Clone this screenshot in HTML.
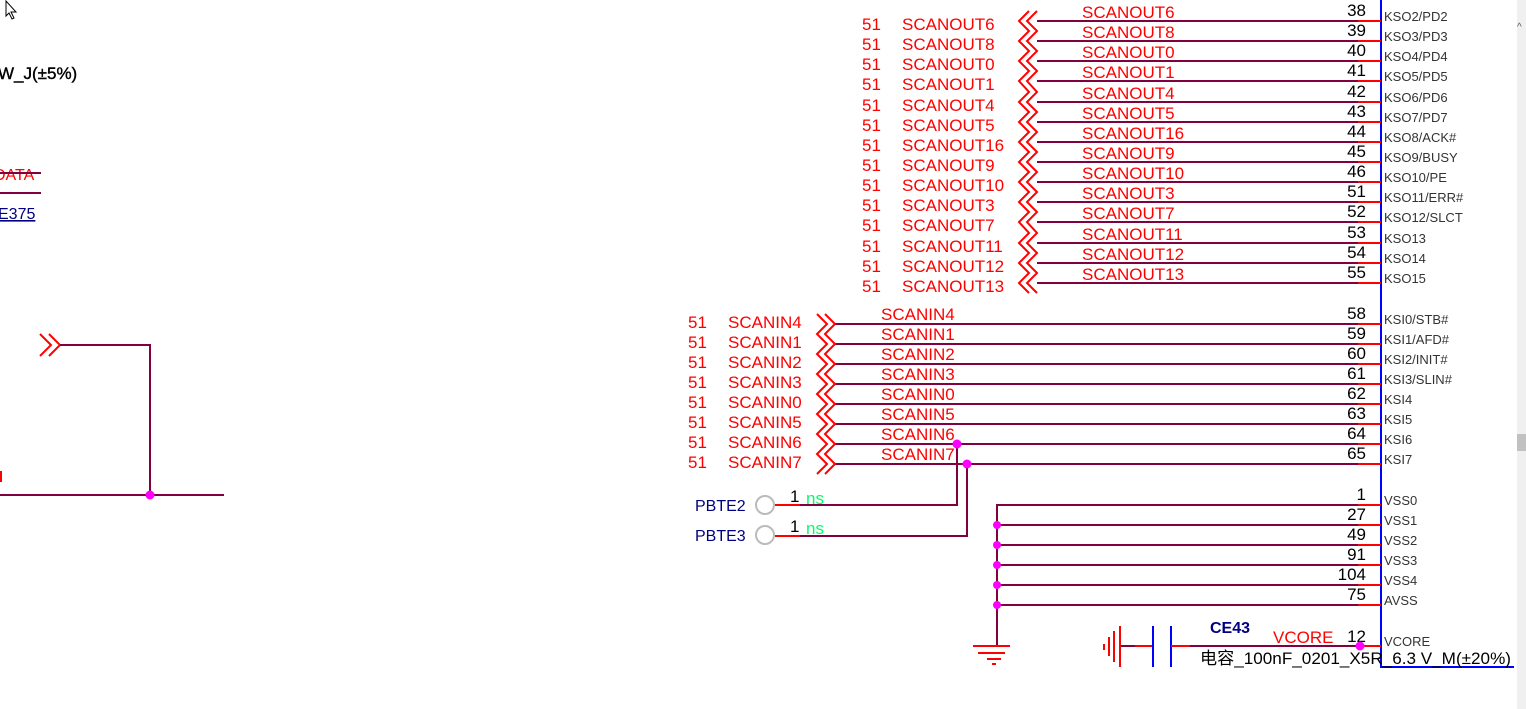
<!DOCTYPE html>
<html><head><meta charset="utf-8"><style>
html,body{margin:0;padding:0;background:#fff;}
svg{display:block;font-family:"Liberation Sans","Noto Sans CJK SC",sans-serif;}
.w{stroke:#800040;stroke-width:2;fill:none}
.r{stroke:#ff0000;stroke-width:2;fill:none}
.lab{fill:#ff0000;font-size:17px}
.pn{fill:#000;font-size:17px;text-anchor:end}
.nm{fill:#333;font-size:13px}
.d{fill:#ff00ff}
</style></head><body>
<svg width="1526" height="709" viewBox="0 0 1526 709" xmlns="http://www.w3.org/2000/svg">
<path d="M6 1 L6 16 L9 13 L12 19 L14 18 L11 12 L16 12 Z" fill="#fff" stroke="#000" stroke-width="1"/>
<text x="-2" y="79" font-size="17" fill="#000" stroke="#000" stroke-width="0.4">W_J(±5%)</text>
<text x="-6" y="180" font-size="16" fill="#ff0000">DATA</text>
<line x1="0" y1="173" x2="41" y2="173" class="w"/>
<line x1="0" y1="193" x2="41" y2="193" class="w"/>
<text x="-2" y="219" font-size="16" fill="#000080" text-decoration="underline">E375</text>
<line x1="0" y1="221" x2="33" y2="221" stroke="#000080" stroke-width="1"/>
<polyline points="40,334 51,345 40,356" class="r"/>
<polyline points="49,334 60,345 49,356" class="r"/>
<polyline points="60,345 150,345 150,495" class="w"/>
<line x1="0" y1="495" x2="224" y2="495" class="w"/>
<circle cx="150" cy="495" r="4.5" class="d"/>
<line x1="1" y1="471" x2="1" y2="482" class="r"/>

<polyline points="1381,0 1381,667 1514,667" stroke="#0000ff" stroke-width="2" fill="none"/>
<rect x="1517" y="0" width="9" height="709" fill="#f0f0f0"/>
<rect x="1517" y="434" width="9" height="17" fill="#c1c1c1"/>
<text x="1517" y="30" font-size="10" fill="#555">^</text>

<g>
<line x1="1037" y1="21" x2="1360" y2="21" class="w"/><line x1="1358" y1="21" x2="1381" y2="21" class="r"/>
<line x1="1037" y1="41" x2="1360" y2="41" class="w"/><line x1="1358" y1="41" x2="1381" y2="41" class="r"/>
<line x1="1037" y1="61" x2="1360" y2="61" class="w"/><line x1="1358" y1="61" x2="1381" y2="61" class="r"/>
<line x1="1037" y1="81" x2="1360" y2="81" class="w"/><line x1="1358" y1="81" x2="1381" y2="81" class="r"/>
<line x1="1037" y1="102" x2="1360" y2="102" class="w"/><line x1="1358" y1="102" x2="1381" y2="102" class="r"/>
<line x1="1037" y1="122" x2="1360" y2="122" class="w"/><line x1="1358" y1="122" x2="1381" y2="122" class="r"/>
<line x1="1037" y1="142" x2="1360" y2="142" class="w"/><line x1="1358" y1="142" x2="1381" y2="142" class="r"/>
<line x1="1037" y1="162" x2="1360" y2="162" class="w"/><line x1="1358" y1="162" x2="1381" y2="162" class="r"/>
<line x1="1037" y1="182" x2="1360" y2="182" class="w"/><line x1="1358" y1="182" x2="1381" y2="182" class="r"/>
<line x1="1037" y1="202" x2="1360" y2="202" class="w"/><line x1="1358" y1="202" x2="1381" y2="202" class="r"/>
<line x1="1037" y1="222" x2="1360" y2="222" class="w"/><line x1="1358" y1="222" x2="1381" y2="222" class="r"/>
<line x1="1037" y1="243" x2="1360" y2="243" class="w"/><line x1="1358" y1="243" x2="1381" y2="243" class="r"/>
<line x1="1037" y1="263" x2="1360" y2="263" class="w"/><line x1="1358" y1="263" x2="1381" y2="263" class="r"/>
<line x1="1037" y1="283" x2="1360" y2="283" class="w"/><line x1="1358" y1="283" x2="1381" y2="283" class="r"/>
<polyline class="r" points="1029,11 1019,21 1029,31 1019,41 1029,51 1019,61 1029,71 1019,81 1029,92 1019,102 1029,112 1019,122 1029,132 1019,142 1029,152 1019,162 1029,172 1019,182 1029,192 1019,202 1029,212 1019,222 1029,233 1019,243 1029,253 1019,263 1029,273 1019,283 1029,293"/>
<polyline class="r" points="1037,11 1027,21 1037,31 1027,41 1037,51 1027,61 1037,71 1027,81 1037,92 1027,102 1037,112 1027,122 1037,132 1027,142 1037,152 1027,162 1037,172 1027,182 1037,192 1027,202 1037,212 1027,222 1037,233 1027,243 1037,253 1027,263 1037,273 1027,283 1037,293"/>
</g>
<g class="lab">
<text x="862" y="30">51</text><text x="902" y="30">SCANOUT6</text><text x="1082" y="18">SCANOUT6</text>
<text x="862" y="50">51</text><text x="902" y="50">SCANOUT8</text><text x="1082" y="38">SCANOUT8</text>
<text x="862" y="70">51</text><text x="902" y="70">SCANOUT0</text><text x="1082" y="58">SCANOUT0</text>
<text x="862" y="90">51</text><text x="902" y="90">SCANOUT1</text><text x="1082" y="78">SCANOUT1</text>
<text x="862" y="111">51</text><text x="902" y="111">SCANOUT4</text><text x="1082" y="99">SCANOUT4</text>
<text x="862" y="131">51</text><text x="902" y="131">SCANOUT5</text><text x="1082" y="119">SCANOUT5</text>
<text x="862" y="151">51</text><text x="902" y="151">SCANOUT16</text><text x="1082" y="139">SCANOUT16</text>
<text x="862" y="171">51</text><text x="902" y="171">SCANOUT9</text><text x="1082" y="159">SCANOUT9</text>
<text x="862" y="191">51</text><text x="902" y="191">SCANOUT10</text><text x="1082" y="179">SCANOUT10</text>
<text x="862" y="211">51</text><text x="902" y="211">SCANOUT3</text><text x="1082" y="199">SCANOUT3</text>
<text x="862" y="231">51</text><text x="902" y="231">SCANOUT7</text><text x="1082" y="219">SCANOUT7</text>
<text x="862" y="252">51</text><text x="902" y="252">SCANOUT11</text><text x="1082" y="240">SCANOUT11</text>
<text x="862" y="272">51</text><text x="902" y="272">SCANOUT12</text><text x="1082" y="260">SCANOUT12</text>
<text x="862" y="292">51</text><text x="902" y="292">SCANOUT13</text><text x="1082" y="280">SCANOUT13</text>
</g>
<g class="pn">
<text x="1366" y="16">38</text><text x="1366" y="36">39</text><text x="1366" y="56">40</text><text x="1366" y="76">41</text>
<text x="1366" y="97">42</text><text x="1366" y="117">43</text><text x="1366" y="137">44</text><text x="1366" y="157">45</text>
<text x="1366" y="177">46</text><text x="1366" y="197">51</text><text x="1366" y="217">52</text><text x="1366" y="238">53</text>
<text x="1366" y="258">54</text><text x="1366" y="278">55</text>
</g>
<g class="nm">
<text x="1384" y="21">KSO2/PD2</text><text x="1384" y="41">KSO3/PD3</text><text x="1384" y="61">KSO4/PD4</text>
<text x="1384" y="81">KSO5/PD5</text><text x="1384" y="102">KSO6/PD6</text><text x="1384" y="122">KSO7/PD7</text>
<text x="1384" y="142">KSO8/ACK#</text><text x="1384" y="162">KSO9/BUSY</text><text x="1384" y="182">KSO10/PE</text>
<text x="1384" y="202">KSO11/ERR#</text><text x="1384" y="222">KSO12/SLCT</text><text x="1384" y="243">KSO13</text>
<text x="1384" y="263">KSO14</text><text x="1384" y="283">KSO15</text>
</g>

<g>
<line x1="835" y1="324" x2="1360" y2="324" class="w"/><line x1="1358" y1="324" x2="1381" y2="324" class="r"/>
<line x1="835" y1="344" x2="1360" y2="344" class="w"/><line x1="1358" y1="344" x2="1381" y2="344" class="r"/>
<line x1="835" y1="364" x2="1360" y2="364" class="w"/><line x1="1358" y1="364" x2="1381" y2="364" class="r"/>
<line x1="835" y1="384" x2="1360" y2="384" class="w"/><line x1="1358" y1="384" x2="1381" y2="384" class="r"/>
<line x1="835" y1="404" x2="1360" y2="404" class="w"/><line x1="1358" y1="404" x2="1381" y2="404" class="r"/>
<line x1="835" y1="424" x2="1360" y2="424" class="w"/><line x1="1358" y1="424" x2="1381" y2="424" class="r"/>
<line x1="835" y1="444" x2="1360" y2="444" class="w"/><line x1="1358" y1="444" x2="1381" y2="444" class="r"/>
<line x1="835" y1="464" x2="1360" y2="464" class="w"/><line x1="1358" y1="464" x2="1381" y2="464" class="r"/>
<polyline class="r" points="817,314 827,324 817,334 827,344 817,354 827,364 817,374 827,384 817,394 827,404 817,414 827,424 817,434 827,444 817,454 827,464 817,474"/>
<polyline class="r" points="825,314 835,324 825,334 835,344 825,354 835,364 825,374 835,384 825,394 835,404 825,414 835,424 825,434 835,444 825,454 835,464 825,474"/>
</g>
<g class="lab">
<text x="688" y="328">51</text><text x="728" y="328">SCANIN4</text><text x="881" y="320">SCANIN4</text>
<text x="688" y="348">51</text><text x="728" y="348">SCANIN1</text><text x="881" y="340">SCANIN1</text>
<text x="688" y="368">51</text><text x="728" y="368">SCANIN2</text><text x="881" y="360">SCANIN2</text>
<text x="688" y="388">51</text><text x="728" y="388">SCANIN3</text><text x="881" y="380">SCANIN3</text>
<text x="688" y="408">51</text><text x="728" y="408">SCANIN0</text><text x="881" y="400">SCANIN0</text>
<text x="688" y="428">51</text><text x="728" y="428">SCANIN5</text><text x="881" y="420">SCANIN5</text>
<text x="688" y="448">51</text><text x="728" y="448">SCANIN6</text><text x="881" y="440">SCANIN6</text>
<text x="688" y="468">51</text><text x="728" y="468">SCANIN7</text><text x="881" y="460">SCANIN7</text>
</g>
<g class="pn">
<text x="1366" y="319">58</text><text x="1366" y="339">59</text><text x="1366" y="359">60</text><text x="1366" y="379">61</text>
<text x="1366" y="399">62</text><text x="1366" y="419">63</text><text x="1366" y="439">64</text><text x="1366" y="459">65</text>
</g>
<g class="nm">
<text x="1384" y="324">KSI0/STB#</text><text x="1384" y="344">KSI1/AFD#</text><text x="1384" y="364">KSI2/INIT#</text>
<text x="1384" y="384">KSI3/SLIN#</text><text x="1384" y="404">KSI4</text><text x="1384" y="424">KSI5</text>
<text x="1384" y="444">KSI6</text><text x="1384" y="464">KSI7</text>
</g>

<polyline points="957,444 957,505 800,505" class="w"/>
<polyline points="967,464 967,536 800,536" class="w"/>
<line x1="775" y1="505" x2="800" y2="505" class="r"/>
<line x1="775" y1="536" x2="800" y2="536" class="r"/>
<circle cx="957" cy="444" r="4.5" class="d"/>
<circle cx="967" cy="464" r="4.5" class="d"/>
<circle cx="765" cy="505" r="9" fill="none" stroke="#bbb" stroke-width="2"/>
<circle cx="765" cy="535" r="9" fill="none" stroke="#bbb" stroke-width="2"/>
<text x="695" y="511" font-size="16" fill="#000080">PBTE2</text>
<text x="695" y="541" font-size="16" fill="#000080">PBTE3</text>
<text x="790" y="502" font-size="17" fill="#000">1</text>
<text x="806" y="504" font-size="17" fill="#00ff66">ns</text>
<text x="790" y="532" font-size="17" fill="#000">1</text>
<text x="806" y="534" font-size="17" fill="#00ff66">ns</text>

<g>
<line x1="997" y1="505" x2="1360" y2="505" class="w"/><line x1="1358" y1="505" x2="1381" y2="505" class="r"/>
<line x1="997" y1="525" x2="1360" y2="525" class="w"/><line x1="1358" y1="525" x2="1381" y2="525" class="r"/>
<line x1="997" y1="545" x2="1360" y2="545" class="w"/><line x1="1358" y1="545" x2="1381" y2="545" class="r"/>
<line x1="997" y1="565" x2="1360" y2="565" class="w"/><line x1="1358" y1="565" x2="1381" y2="565" class="r"/>
<line x1="997" y1="585" x2="1360" y2="585" class="w"/><line x1="1358" y1="585" x2="1381" y2="585" class="r"/>
<line x1="997" y1="605" x2="1360" y2="605" class="w"/><line x1="1358" y1="605" x2="1381" y2="605" class="r"/>
<line x1="997" y1="504" x2="997" y2="646" class="w"/>
<circle cx="997" cy="525" r="4" class="d"/><circle cx="997" cy="545" r="4" class="d"/>
<circle cx="997" cy="565" r="4" class="d"/><circle cx="997" cy="585" r="4" class="d"/>
<circle cx="997" cy="605" r="4" class="d"/>
<line x1="973" y1="646" x2="1010" y2="646" class="r"/>
<line x1="978" y1="653" x2="1005" y2="653" class="r"/>
<line x1="987" y1="659" x2="1001" y2="659" class="r"/>
<line x1="992" y1="664" x2="996" y2="664" class="r"/>
</g>
<g class="pn">
<text x="1366" y="500">1</text><text x="1366" y="520">27</text><text x="1366" y="540">49</text>
<text x="1366" y="560">91</text><text x="1366" y="580">104</text><text x="1366" y="600">75</text>
<text x="1366" y="642">12</text>
</g>
<g class="nm">
<text x="1384" y="505">VSS0</text><text x="1384" y="525">VSS1</text><text x="1384" y="545">VSS2</text>
<text x="1384" y="565">VSS3</text><text x="1384" y="585">VSS4</text><text x="1384" y="605">AVSS</text>
<text x="1384" y="646">VCORE</text>
</g>

<line x1="1120" y1="626" x2="1120" y2="667" class="r"/>
<line x1="1114" y1="631" x2="1114" y2="662" class="r"/>
<line x1="1109" y1="637" x2="1109" y2="656" class="r"/>
<line x1="1104" y1="644" x2="1104" y2="650" class="r"/>
<line x1="1121" y1="646" x2="1135" y2="646" class="w"/>
<line x1="1135" y1="646" x2="1153" y2="646" class="r"/>
<line x1="1153" y1="626" x2="1153" y2="667" stroke="#0000ff" stroke-width="2"/>
<line x1="1171" y1="626" x2="1171" y2="667" stroke="#0000ff" stroke-width="2"/>
<line x1="1171" y1="646" x2="1190" y2="646" class="r"/>
<line x1="1190" y1="646" x2="1360" y2="646" class="w"/>
<line x1="1358" y1="646" x2="1381" y2="646" class="r"/>
<circle cx="1360" cy="646" r="4.5" class="d"/>
<text x="1210" y="633" font-size="16" font-weight="bold" fill="#000080">CE43</text>
<text x="1273" y="643" font-size="17" fill="#ff0000">VCORE</text>
<text x="1200" y="664" font-size="17" fill="#000" textLength="311" lengthAdjust="spacingAndGlyphs">电容_100nF_0201_X5R_6.3 V_M(±20%)</text>
</svg>
</body></html>
